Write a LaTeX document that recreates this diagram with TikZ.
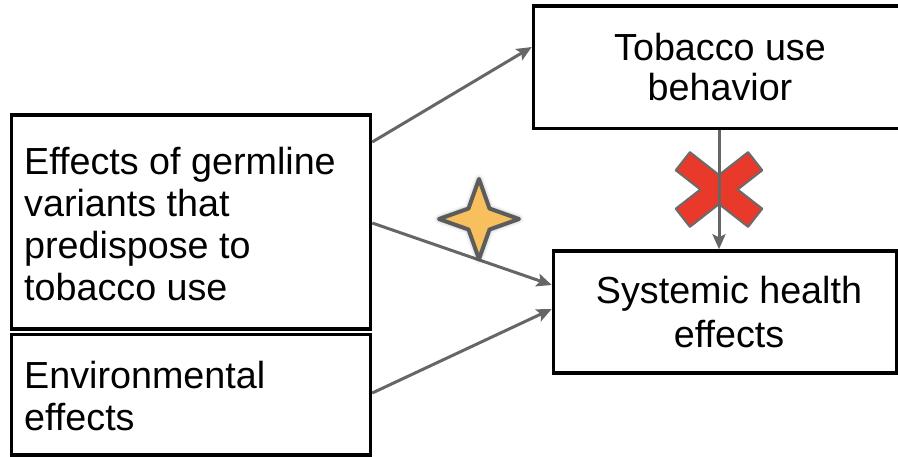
\documentclass[tikz,border=0pt]{standalone}
\usepackage{fontspec}
\setmainfont{Liberation Sans}
\usetikzlibrary{arrows.meta,shadows.blur}
\definecolor{arrowgray}{HTML}{666666}
\definecolor{crossred}{HTML}{E8392B}
\definecolor{crossline}{HTML}{6B6B6B}
\definecolor{starfill}{HTML}{F7BF5E}
\definecolor{starline}{HTML}{5C5C5C}
\begin{document}
\begin{tikzpicture}[x=1pt,y=-1pt,
  box/.style={draw=black, line width=3.5pt, inner sep=0pt},
  txt/.style={font=\fontsize{37.7}{42}\selectfont, inner sep=0pt, text=black},
  conn/.style={draw=arrowgray, line width=3pt, -{Stealth[length=15pt,width=13pt,inset=3pt]}},
  crossmark/.style={fill=crossred, draw=crossline, line width=2pt, line join=round},
  starmark/.style={fill=starfill, draw=starline, line width=4pt, line join=round,
    blur shadow={shadow xshift=0pt, shadow yshift=0pt, shadow blur radius=5pt, shadow opacity=45}}
]
\useasboundingbox (0,0) rectangle (898,456);

% boxes
\node[box, minimum width=359pt, minimum height=214pt] (g) at (191,222) {};
\node[box, minimum width=359pt, minimum height=120.5pt] (e) at (191,394.75) {};
\node[box, minimum width=371.5pt, minimum height=122.5pt] (t) at (719.25,67.25) {};
\node[box, minimum width=343.5pt, minimum height=122pt] (s) at (725.25,312) {};

% texts (base anchor = baseline of the last line)
\node[txt, anchor=base west, align=left] (gtxt) at (24,300)
  {Effects of germline\\variants that\\predispose to\\tobacco use};
\node[txt, anchor=base west, align=left] (etxt) at (24,430)
  {Environmental\\effects};
\node[txt, anchor=base, align=center, font=\fontsize{37.7}{39.5}\selectfont] (ttxt) at (720,100)
  {Tobacco use\\behavior};
\node[txt, anchor=base, align=center, font=\fontsize{37.7}{43.5}\selectfont] (stxt) at (729,347)
  {Systemic health\\effects};

% cross (drawn under the connector)
\path[crossmark, shift={(719,189.5)}]
  (0,-14.6) -- (29.1,-37.4) -- (43.3,-19.2) -- (18.7,0) -- (43.3,19.2) -- (29.1,37.4)
  -- (0,14.6) -- (-29.1,37.4) -- (-43.3,19.2) -- (-18.7,0) -- (-43.3,-19.2) -- (-29.1,-37.4) -- cycle;

% connectors
\draw[conn] (g.east |- 0,142) -- (t.west |- 0,47);
\draw[conn] (g.east |- 0,223) -- (s.west |- 0,285);
\draw[conn] (e.east |- 0,393) -- (s.west |- 0,309);
\draw[conn] (t.south -| 719,0) -- (s.north -| 719,0);

% star
\path[starmark, shift={(479,219)}]
  (0,-40) -- (10.5,-10.5) -- (40,0) -- (10.5,10.5) -- (0,40) -- (-10.5,10.5) -- (-40,0) -- (-10.5,-10.5) -- cycle;
\end{tikzpicture}
\end{document}
